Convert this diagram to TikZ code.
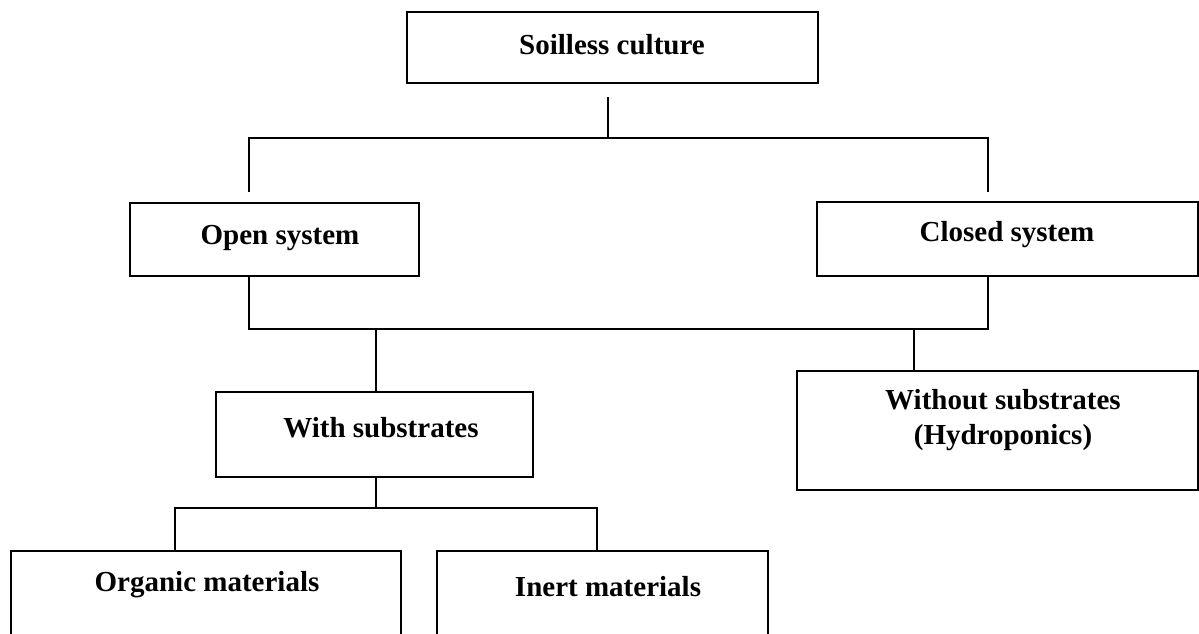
\documentclass[tikz,border=0pt]{standalone}
\usepackage{fontspec}
\setmainfont{Liberation Serif}
\begin{document}
\begin{tikzpicture}[x=1pt,y=-1pt,
  box/.style={draw=black, line width=1.3pt, rectangle, inner sep=0pt, outer sep=0pt},
  txt/.style={font=\fontsize{29}{35}\selectfont\bfseries, inner sep=0pt, align=center},
  conn/.style={draw=black, line width=1.3pt}]
\useasboundingbox (0,0) rectangle (1199,633);
\clip (0,0) rectangle (1199,633);
% boxes
\node[box, minimum width=411pt, minimum height=71pt] (soil) at (612.5,47.5) {};
\node[box, minimum width=289pt, minimum height=73pt] (open) at (274.5,239.5) {};
\node[box, minimum width=381pt, minimum height=74pt] (closed) at (1007.5,239) {};
\node[box, minimum width=317pt, minimum height=85pt] (with) at (374.5,434.5) {};
\node[box, minimum width=401pt, minimum height=119pt] (without) at (997.5,430.5) {};
\node[box, minimum width=390pt, minimum height=120pt] (org) at (206,611) {};
\node[box, minimum width=331pt, minimum height=120pt] (inert) at (602.5,611) {};
% texts
\node[txt] (tsoil) at (612,45) {Soilless culture};
\node[txt] (topen) at (280,238) {Open system};
\node[txt] (tclosed) at (1007,235) {Closed system};
\node[txt] (twith) at (381,428) {With substrates};
\node[txt, align=center] (twithout) at (1003,420) {Without substrates\\(Hydroponics)};
\node[txt] (torg) at (207,585) {Organic materials};
\node[txt] (tinert) at (608,587) {Inert materials};
% connector coordinates
\coordinate (a1) at (608,97);
\coordinate (a2) at (608,138);
\coordinate (b1) at (249,192);
\coordinate (b2) at (249,138);
\coordinate (c1) at (988,192);
\coordinate (c2) at (988,138);
\coordinate (d1) at (249,329);
\coordinate (d2) at (988,329);
\coordinate (e1) at (376,329);
\coordinate (f1) at (914,329);
\coordinate (g1) at (376,508);
\coordinate (h1) at (175,508);
\coordinate (h2) at (597,508);
% connectors
\draw[conn] (a1) -- (a2);
\draw[conn] (b1) -- (b2) -- (c2) -- (c1);
\draw[conn] (open.south -| d1) -- (d1) -- (d2) -- (closed.south -| d2);
\draw[conn] (e1) -- (with.north -| e1);
\draw[conn] (f1) -- (without.north -| f1);
\draw[conn] (with.south -| g1) -- (g1);
\draw[conn] (org.north -| h1) -- (h1) -- (h2) -- (inert.north -| h2);
\end{tikzpicture}
\end{document}
